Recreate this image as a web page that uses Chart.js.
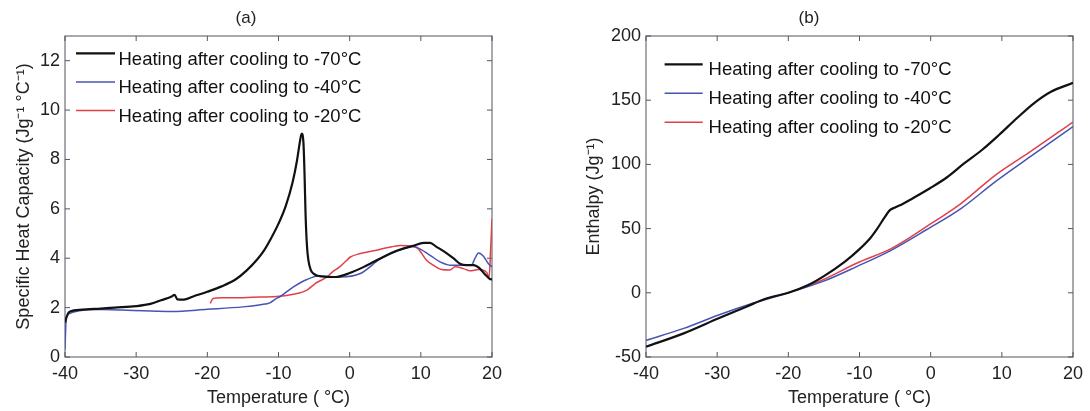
<!DOCTYPE html>
<html><head><meta charset="utf-8">
<script src="https://cdn.jsdelivr.net/npm/chart.js@4"></script>
<style>
html,body{margin:0;padding:0;background:#fff;overflow:hidden;}
#wrapA{position:absolute;left:0;top:0;width:545px;height:411px;}
#wrapB{position:absolute;left:545px;top:0;width:545px;height:411px;}
</style></head><body>
<div id="wrapA"><canvas id="cA"></canvas></div>
<div id="wrapB"><canvas id="cB"></canvas></div>
<script>
// ---------- data ----------
const seriesLabels = ['Heating after cooling to -70°C','Heating after cooling to -40°C','Heating after cooling to -20°C'];
const seriesColors = ['#111111','#4654b4','#e0404a'];
const seriesWidths = [2.2,1.5,1.5];

const xTicks = [-40,-30,-20,-10,0,10,20];
const yTicksA = [0,2,4,6,8,10,12];
const yTicksB = [-50,0,50,100,150,200];

// (a) specific heat capacity
const aBlackT = [-40,-39.8,-39.5,-39,-37,-35,-33,-30,-28,-26.5,-25,-24.6,-24.2,-23.3,-22,-20,-18,-16,-14.5,-13,-12,-11,-10,-9,-8,-7.4,-7,-6.75,-6.5,-6.35,-6.2,-6.0,-5.8,-5.5,-5.1,-4,-2,0,2,4.3,6.6,8.9,10.4,11.3,12.2,13.4,14.6,15.5,16.4,17.4,18.3,19,19.7,20];
const aBlackCp = [1.4,1.6,1.8,1.87,1.93,1.96,2.0,2.06,2.15,2.3,2.45,2.52,2.33,2.32,2.45,2.64,2.86,3.15,3.5,3.95,4.33,4.83,5.4,6.1,7.1,7.96,8.7,9.05,8.7,7.5,5.8,4.5,3.92,3.55,3.38,3.26,3.24,3.4,3.65,3.99,4.3,4.5,4.62,4.62,4.46,4.25,3.99,3.78,3.72,3.72,3.58,3.35,3.16,3.14];
const aBlueT = [-40,-39.9,-39.8,-39.4,-38,-35,-32,-29,-25,-20,-15,-12.5,-11.2,-10.4,-9.8,-7.9,-6,-4.2,-1.4,1.5,4.3,6.6,8.9,9.3,11.3,12.7,14.1,16,17.1,17.6,18.1,18.8,19.5,20];
const aBlueCp = [0.3,1.2,1.6,1.76,1.87,1.92,1.9,1.87,1.84,1.93,2.03,2.12,2.19,2.35,2.44,2.84,3.14,3.29,3.24,3.38,3.97,4.28,4.48,4.46,4.12,3.85,3.72,3.72,3.72,3.99,4.21,4.08,3.78,3.65];
const aRedT = [-19.6,-19.2,-18,-15,-12.6,-10.7,-7.7,-6.0,-4.8,-3.2,-2.4,-1.4,-0.4,0.1,1.5,3.3,5.2,7.1,8.9,9.6,10.8,11.75,12.9,14.1,14.8,16,16.9,18.1,19.25,19.6,19.8,20];
const aRedCp = [2.17,2.37,2.4,2.4,2.43,2.44,2.55,2.71,2.98,3.24,3.45,3.65,3.92,4.05,4.19,4.3,4.42,4.52,4.48,4.39,3.92,3.72,3.54,3.52,3.65,3.58,3.49,3.54,3.42,3.24,4.32,5.6];

// (b) enthalpy
const bBlackT = [-40,-34.7,-29.8,-25.9,-23,-20,-17.2,-15,-12,-10,-8.5,-7.5,-6.5,-5.8,-5,-4,-2.6,-0.1,2.3,4.7,7.2,9.6,12.1,14.5,16.9,20];
const bBlackH = [-42,-31.6,-19.9,-10.8,-4.3,0,6.1,13,24.5,34,42.5,50,58.5,64,66.5,69,73.3,81.4,90,100.8,111.2,122.9,135.9,147.6,156.6,163.5];
const bBlueT = [-40,-34.7,-29.8,-25,-20,-15.2,-10.4,-5.5,-0.6,4.3,9.1,14,20];
const bBlueH = [-37,-27.7,-17.3,-8.2,0,8.7,20.4,33.3,49.1,65.8,86.6,106,129.5];
const bRedT = [-20,-15.2,-10.4,-5.5,-0.6,4.3,9.1,14,20];
const bRedH = [0,10,23,34.6,51.5,69.7,91.7,109.9,133];

// ---------- helpers ----------
const FAM = '"Liberation Sans", Arial, Helvetica, sans-serif';
const TXT = '#222222';
const pts = (xs, ys) => xs.map((x, i) => ({x: x, y: ys[i]}));

const framePlugin = {
  id: 'frame',
  beforeDatasetsDraw(chart) {
    const {ctx, chartArea: a, scales} = chart;
    ctx.save();
    ctx.strokeStyle = '#7a7a84';
    ctx.lineWidth = 1.3;
    ctx.strokeRect(a.left, a.top, a.right - a.left, a.bottom - a.top);
    ctx.strokeStyle = '#555560';
    ctx.lineWidth = 1;
    const L = 5;
    ctx.beginPath();
    scales.x.ticks.forEach((t) => {
      const px = scales.x.getPixelForValue(t.value);
      ctx.moveTo(px, a.bottom); ctx.lineTo(px, a.bottom - L);
      ctx.moveTo(px, a.top); ctx.lineTo(px, a.top + L);
    });
    scales.y.ticks.forEach((t) => {
      const py = scales.y.getPixelForValue(t.value);
      ctx.moveTo(a.left, py); ctx.lineTo(a.left + L, py);
      ctx.moveTo(a.right, py); ctx.lineTo(a.right - L, py);
    });
    ctx.stroke();
    ctx.restore();
  }
};

const legendPlugin = {
  id: 'insideLegend',
  afterDatasetsDraw(chart, args, o) {
    const {ctx, chartArea: a} = chart;
    ctx.save();
    chart.data.datasets.forEach((ds, i) => {
      const y = a.top + o.y0 + i * o.dy;
      ctx.strokeStyle = ds.borderColor;
      ctx.lineWidth = ds.borderWidth;
      ctx.beginPath();
      ctx.moveTo(a.left + o.x0, y);
      ctx.lineTo(a.left + o.x1, y);
      ctx.stroke();
      ctx.fillStyle = '#111';
      ctx.font = '18.5px ' + FAM;
      ctx.textBaseline = 'alphabetic';
      ctx.textAlign = 'left';
      ctx.fillText(ds.label, a.left + o.tx, y + o.base);
    });
    ctx.restore();
  }
};

function makeDatasets(list) {
  return list.map((d, i) => ({
    label: seriesLabels[i],
    data: d,
    showLine: true,
    borderColor: seriesColors[i],
    backgroundColor: seriesColors[i],
    borderWidth: seriesWidths[i],
    pointRadius: 0,
    cubicInterpolationMode: 'monotone',
    fill: false
  }));
}

function makeConfig(o) {
  return {
    type: 'scatter',
    data: { datasets: makeDatasets(o.sets) },
    plugins: [framePlugin, legendPlugin],
    options: {
      responsive: true,
      maintainAspectRatio: false,
      animation: false,
      devicePixelRatio: 1,
      layout: { padding: { left: 0, right: o.padRight, top: 0, bottom: 0 } },
      plugins: {
        legend: { display: false },
        tooltip: { enabled: false },
        title: {
          display: true, text: o.title, color: TXT,
          font: { size: 17, family: FAM, weight: 'normal', lineHeight: 1.2 },
          padding: { top: 8, bottom: 7.6 }
        },
        insideLegend: o.legend
      },
      scales: {
        x: {
          type: 'linear', min: -40, max: 20, bounds: 'data',
          afterBuildTicks: s => { s.ticks = xTicks.map(v => ({value: v})); },
          afterFit: s => { s.height = 54; },
          grid: { display: false, drawTicks: false },
          border: { display: false },
          ticks: { font: { size: 18, family: FAM }, color: TXT, padding: 6, maxRotation: 0, autoSkip: false },
          title: { display: true, text: 'Temperature ( °C)', color: TXT,
                   font: { size: 18, family: FAM }, padding: { top: 0, bottom: 2.5 } }
        },
        y: {
          type: 'linear', min: o.yMin, max: o.yMax, bounds: 'data',
          afterBuildTicks: s => { s.ticks = o.yTicks.map(v => ({value: v})); },
          afterFit: s => { s.width = o.yWidth; },
          grid: { display: false, drawTicks: false },
          border: { display: false },
          ticks: { font: { size: 18, family: FAM }, color: TXT, padding: 5, autoSkip: false },
          title: { display: true, text: o.yTitle, color: TXT,
                   font: { size: 18, family: FAM }, padding: { top: o.yTitlePad, bottom: 0 } }
        }
      }
    }
  };
}

new Chart(document.getElementById('cA'), makeConfig({
  title: '(a)',
  sets: [pts(aBlackT, aBlackCp), pts(aBlueT, aBlueCp), pts(aRedT, aRedCp)],
  yMin: 0, yMax: 13, yTicks: yTicksA, yWidth: 65, padRight: 53, yTitlePad: 13.5,
  yTitle: 'Specific Heat Capacity (Jg⁻¹ °C⁻¹)',
  legend: { x0: 11, x1: 50, tx: 53.5, y0: 17.3, dy: 28.6, base: 11.5 }
}));

new Chart(document.getElementById('cB'), makeConfig({
  title: '(b)',
  sets: [pts(bBlackT, bBlackH), pts(bBlueT, bBlueH), pts(bRedT, bRedH)],
  yMin: -50, yMax: 200, yTicks: yTicksB, yWidth: 101, padRight: 17, yTitlePad: 38.5,
  yTitle: 'Enthalpy (Jg⁻¹)',
  legend: { x0: 18.6, x1: 56.7, tx: 62.6, y0: 28.3, dy: 29, base: 11 }
}));
</script>
</body></html>
